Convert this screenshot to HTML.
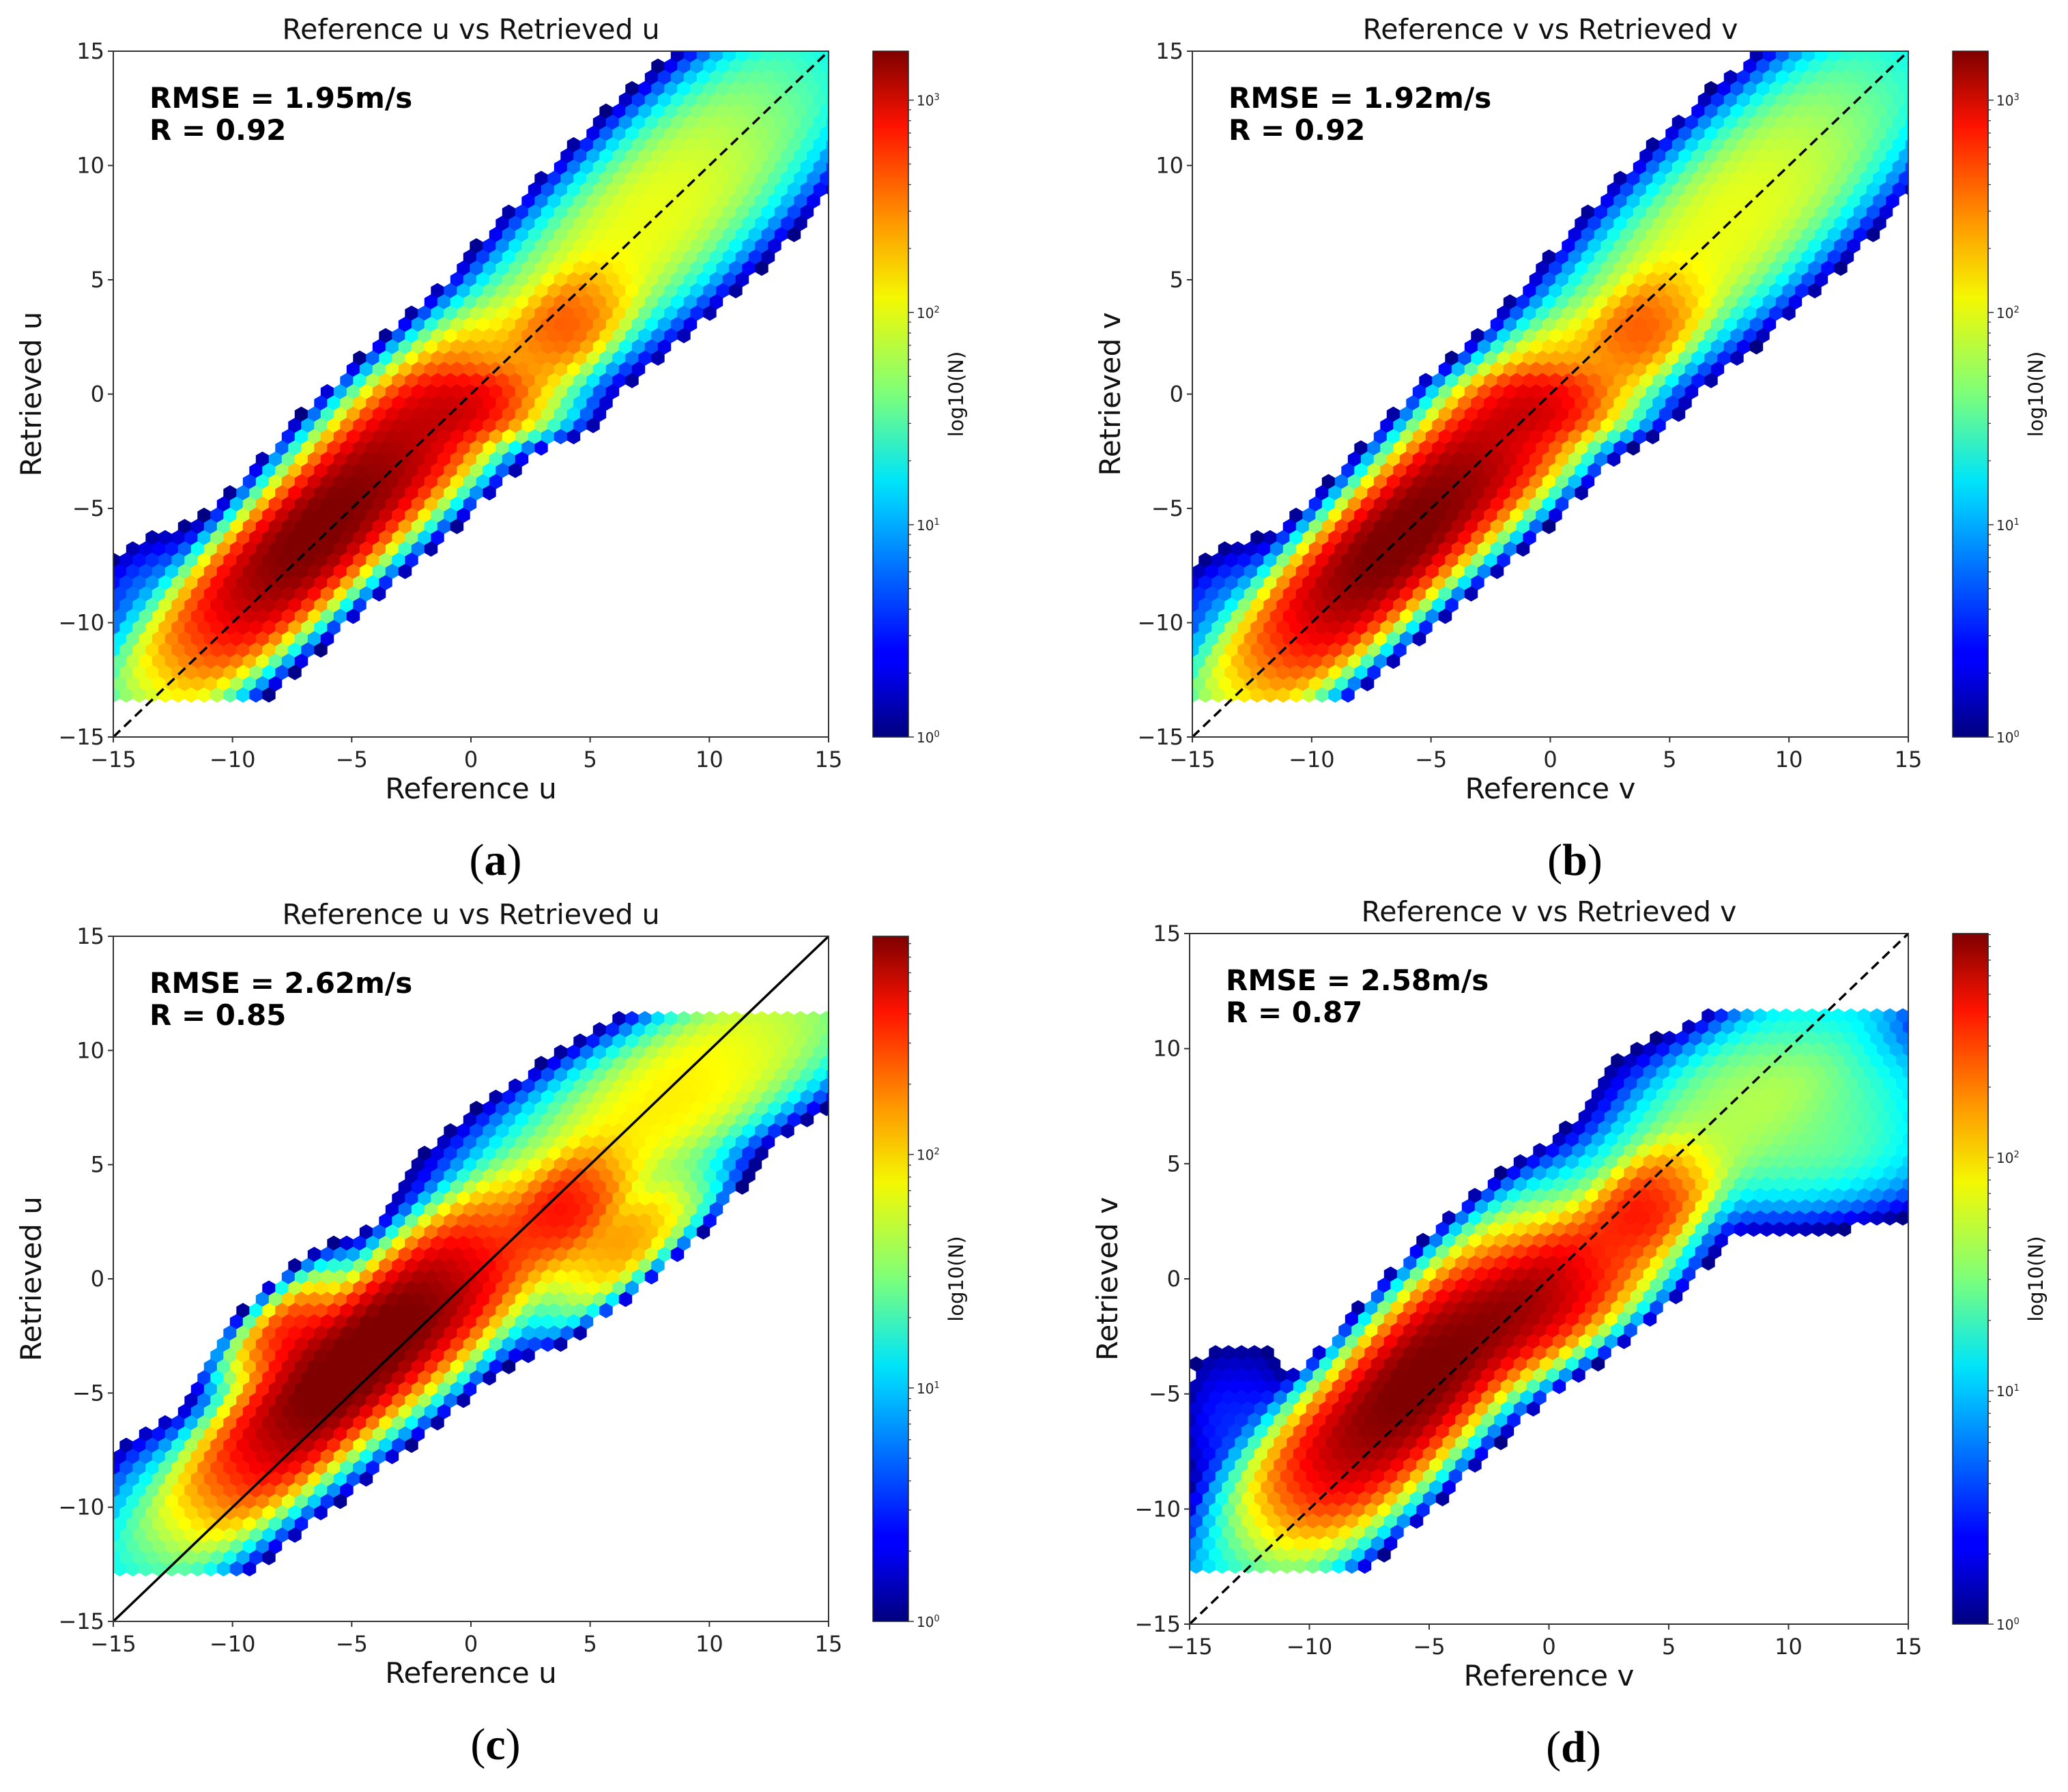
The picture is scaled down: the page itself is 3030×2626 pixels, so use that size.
<!DOCTYPE html>
<html><head><meta charset="utf-8">
<style>
html,body{margin:0;padding:0;background:#fff;}
svg{display:block;font-family:"DejaVu Sans","Liberation Sans",sans-serif;}
</style></head>
<body>
<svg id="fig" width="3030" height="2626" viewBox="0 0 3030 2626" xmlns="http://www.w3.org/2000/svg">
<defs>
<linearGradient id="jet" x1="0" y1="1" x2="0" y2="0">
<stop offset="0" stop-color="#00007f"/><stop offset="0.11" stop-color="#0000ff"/>
<stop offset="0.125" stop-color="#0000ff"/><stop offset="0.34" stop-color="#00c8ff"/>
<stop offset="0.375" stop-color="#00e5f8"/><stop offset="0.5" stop-color="#7dff7a"/>
<stop offset="0.64" stop-color="#f4f802"/><stop offset="0.75" stop-color="#ff9800"/>
<stop offset="0.89" stop-color="#ff1300"/><stop offset="1" stop-color="#7f0000"/>
</linearGradient>
</defs>
</svg>
<script>
// ---- data ----
const panelIds = ['a','b','c','d'];
const titles = ['Reference u vs Retrieved u','Reference v vs Retrieved v','Reference u vs Retrieved u','Reference v vs Retrieved v'];
const xLabels = ['Reference u','Reference v','Reference u','Reference v'];
const yLabels = ['Retrieved u','Retrieved v','Retrieved u','Retrieved v'];
const rmseText = ['RMSE = 1.95m/s','RMSE = 1.92m/s','RMSE = 2.62m/s','RMSE = 2.58m/s'];
const rText = ['R = 0.92','R = 0.92','R = 0.85','R = 0.87'];
const vmaxCounts = [1700, 1700, 860, 910];
const yCaps = [15.5, 15.5, 11.7, 11.6];
const yFloors = [-13.6, -13.5, -12.8, -12.8];
const lineSolid = [false, false, true, false];
const axisTicks = [-15,-10,-5,0,5,10,15];
const cbDecades = [0,1,2,3];
// density components per panel: centre x, centre y, spread along, spread across, angle (deg), peak count
const compX = [
  [-7,-3,0,4,8,0,-13],
  [-7,-3,-0.3,3.8,8,0,-13],
  [-6,-2,-7.5,4,6.5,9,0,-13],
  [-5.5,-0.5,4,-9,10.5,-13,0]
];
const compY = [
  [-6.6,-2.4,-0.5,3,8,0.3,-9.5],
  [-7,-3,-0.5,2.8,8,0,-10],
  [-4.8,-1.3,-2.5,3,1.5,8.5,0,-9.5],
  [-4.5,-1,3,-7.5,6.8,-6.5,0]
];
const compAlong = [
  [3.6,3,1.6,1.6,5,12,2],
  [3.6,3,1.6,1.6,5,12,2],
  [3.5,3,1.5,1.6,2.2,5,12,2],
  [3.5,2.5,1.6,2.2,3.5,2.5,12]
];
const compCross = [
  [1.3,1.5,0.9,1.1,2.1,1.7,1.8],
  [1.3,1.5,0.9,1.1,2.1,1.7,1.8],
  [1.3,1.5,0.9,1.1,0.8,1.8,1.7,1.6],
  [1.5,1.4,1.1,1.4,2.3,1.6,1.7]
];
const compAngle = [
  [45,45,5,45,45,45,45],
  [45,45,5,45,45,45,45],
  [45,45,45,45,42,30,42,45],
  [50,35,45,45,5,90,45]
];
const compPeak = [
  [1650,700,450,260,60,45,6],
  [1650,700,450,260,60,45,6],
  [850,520,300,260,120,50,40,6],
  [880,520,270,220,28,3,30]
];
// ---- layout ----
const layout = [
  {L:166,T:75,R:1214,B:1080,cbL:1279,cbR:1331},
  {L:1747,T:75,R:2796,B:1080,cbL:2861,cbR:2913},
  {L:166,T:1372,R:1214,B:2376,cbL:1279,cbR:1331},
  {L:1743,T:1368,R:2796,B:2380,cbL:2861,cbR:2913}
];
const NS='http://www.w3.org/2000/svg';
const svg=document.getElementById('fig');
function mk(tag,attrs,parent){const e=document.createElementNS(NS,tag);for(const k in attrs)e.setAttribute(k,attrs[k]);(parent||svg).appendChild(e);return e;}
function jet(t){t=Math.max(0,Math.min(1,t));
  const cl=v=>Math.max(0,Math.min(1,v));
  const r=cl(1.5-Math.abs(4*t-3)),g=cl(1.5-Math.abs(4*t-2)),b=cl(1.5-Math.abs(4*t-1));
  return 'rgb('+Math.round(r*255)+','+Math.round(g*255)+','+Math.round(b*255)+')';}
function fmt(v){return v<0?'\u2212'+Math.abs(v):String(v);}

panelIds.forEach((pid,i)=>{
  const P=layout[i];
  const g=mk('g',{},svg);
  
  
  const xs=v=>P.L+(v+15)/30*(P.R-P.L);
  const ys=v=>P.B-(v+15)/30*(P.B-P.T);
  const xinv=p=>(p-P.L)/(P.R-P.L)*30-15;
  const yinv=p=>(P.B-p)/(P.B-P.T)*30-15;
  const cp=mk('clipPath',{id:'clip'+pid},g);
  mk('rect',{x:P.L,y:P.T,width:P.R-P.L,height:P.B-P.T},cp);
  const hg=mk('g',{'clip-path':'url(#clip'+pid+')'},g);
  
  
  const lv=Math.log10(vmaxCounts[i]);
  const w=19, hh=w/Math.sqrt(3), rowH=1.5*hh;
  let row=0;
  for(let cy=P.T-hh;cy<P.B+2*hh;cy+=rowH,row++){
    for(let cx=P.L-w+(row%2?w/2:0);cx<P.R+w;cx+=w){
      const dx=xinv(cx),dy=yinv(cy);
      if(dy>yCaps[i]||dy<yFloors[i])continue;
      let cnt=0;
      for(let k=0;k<compX[i].length;k++){
        const th=compAngle[i][k]*Math.PI/180;
        const ex=dx-compX[i][k],ey=dy-compY[i][k];
        const a=ex*Math.cos(th)+ey*Math.sin(th),c=-ex*Math.sin(th)+ey*Math.cos(th);
        const ct=c*c/(2*compCross[i][k]**2);
        cnt+=compPeak[i][k]*Math.exp(-(a*a/(2*compAlong[i][k]**2)+Math.pow(ct,1.5)));
      }
      if(cnt<1)continue;
      const col=jet(Math.log10(cnt)/lv);
      let pts=[];
      for(let m=0;m<6;m++){const an=Math.PI/6+m*Math.PI/3;pts.push((cx+hh*1.02*Math.cos(an)).toFixed(1)+','+(cy+hh*1.02*Math.sin(an)).toFixed(1));}
      const hx=mk('polygon',{points:pts.join(' '),fill:col},hg);
      
      
    }
  }
  const dl=mk('line',{x1:xs(-15),y1:ys(-15),x2:xs(15),y2:ys(15),stroke:'#000','stroke-width':3.5,'stroke-dasharray':lineSolid[i]?'none':'14,8'},g);
  
  
  const fr=mk('rect',{x:P.L,y:P.T,width:P.R-P.L,height:P.B-P.T,fill:'none',stroke:'#333','stroke-width':2},g);
  
  
  axisTicks.forEach(t=>{
    mk('line',{x1:xs(t),y1:P.B,x2:xs(t),y2:P.B+8,stroke:'#333','stroke-width':2},g);
    const tx=mk('text',{x:xs(t),y:P.B+44,'text-anchor':'middle','font-size':32,fill:'#222'},g);
    tx.textContent=fmt(t);
    
    
    mk('line',{x1:P.L-8,y1:ys(t),x2:P.L,y2:ys(t),stroke:'#333','stroke-width':2},g);
    const ty=mk('text',{x:P.L-13,y:ys(t)+11,'text-anchor':'end','font-size':32,fill:'#222'},g);
    ty.textContent=fmt(t);
    
    
  });
  const cxm=(P.L+P.R)/2, cym=(P.T+P.B)/2;
  const tt=mk('text',{x:cxm,y:P.T-18,'text-anchor':'middle','font-size':41,fill:'#111'},g);
  tt.textContent=titles[i];
  
  
  const xl=mk('text',{x:cxm,y:P.B+90,'text-anchor':'middle','font-size':42,fill:'#111'},g);
  xl.textContent=xLabels[i];
  
  
  const yl=mk('text',{x:0,y:0,'text-anchor':'middle','font-size':42,fill:'#111',transform:'translate('+(P.L-106)+','+cym+') rotate(-90)'},g);
  yl.textContent=yLabels[i];
  
  
  const r1=mk('text',{x:P.L+53,y:P.T+83,'font-size':42,'font-weight':'bold',fill:'#000'},g);
  r1.textContent=rmseText[i];
  
  
  const r2=mk('text',{x:P.L+53,y:P.T+130,'font-size':42,'font-weight':'bold',fill:'#000'},g);
  r2.textContent=rText[i];
  
  
  const sl=mk('text',{x:cxm+36,y:P.B+202,'text-anchor':'middle','font-size':66,'font-family':'"Liberation Serif",serif',fill:'#000'},g);
  sl.innerHTML='(<tspan font-weight="bold">'+pid+'</tspan>)';
  
  
  const cb=mk('rect',{x:P.cbL,y:P.T,width:P.cbR-P.cbL,height:P.B-P.T,fill:'url(#jet)',stroke:'#222','stroke-width':1.5},g);
  
  
  const cys=v=>P.B-Math.log10(v)/lv*(P.B-P.T);
  for(let d=0;d<4;d++){for(let m=2;m<10;m++){const v=m*Math.pow(10,d);if(v>vmaxCounts[i])break;
    mk('line',{x1:P.cbR,y1:cys(v),x2:P.cbR+4,y2:cys(v),stroke:'#333','stroke-width':1.2},g);}}
  cbDecades.forEach(d=>{
    const v=Math.pow(10,d); if(v>vmaxCounts[i])return;
    const y=cys(v);
    mk('line',{x1:P.cbR,y1:y,x2:P.cbR+8,y2:y,stroke:'#333','stroke-width':1.5},g);
    const ct=mk('text',{x:P.cbR+12,y:y+8,'font-size':20,fill:'#222'},g);
    ct.innerHTML='10<tspan dy="-8" font-size="13">'+d+'</tspan>';
    
    
  });
  const cl=mk('text',{x:0,y:0,'text-anchor':'middle','font-size':29,fill:'#111',transform:'translate('+(P.cbR+80)+','+cym+') rotate(-90)'},g);
  cl.textContent='log10(N)';
  
  
});
</script>
</body></html>
